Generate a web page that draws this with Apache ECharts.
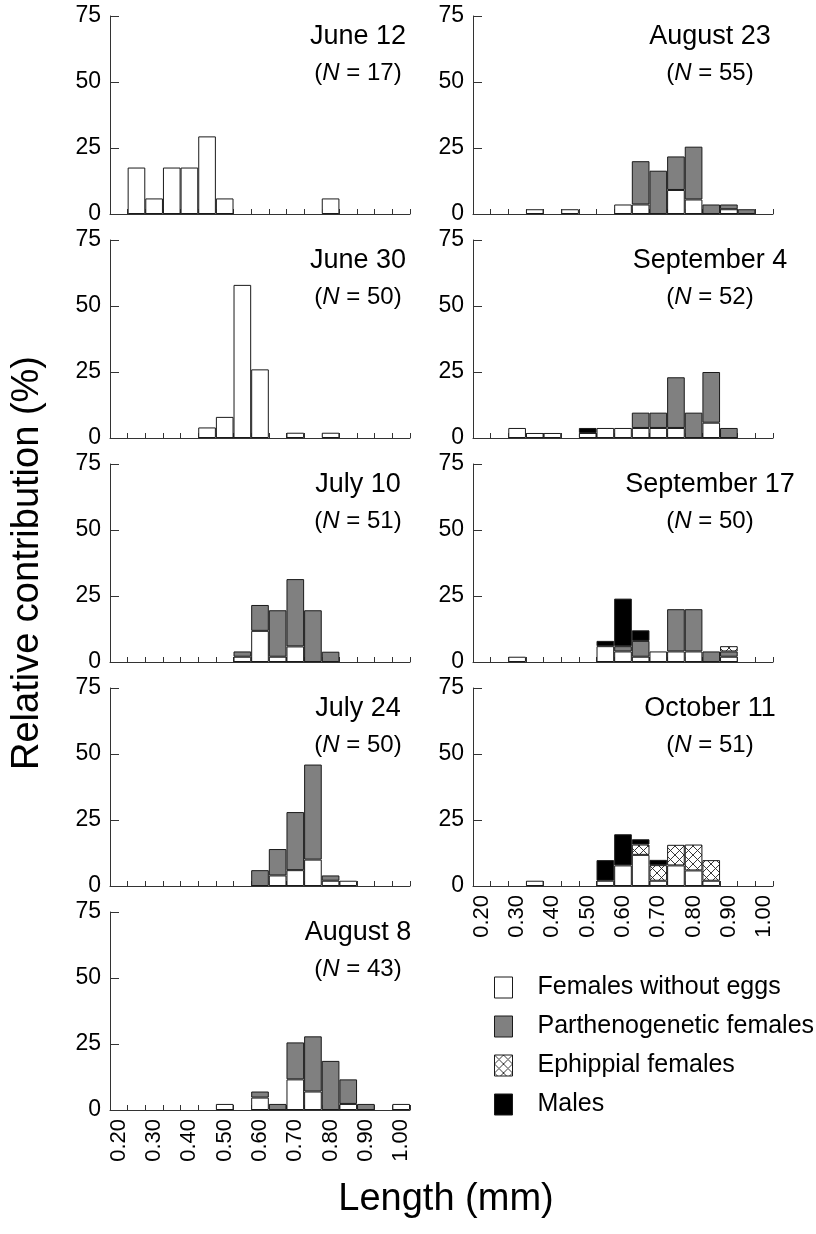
<!DOCTYPE html>
<html>
<head>
<meta charset="utf-8">
<script src="https://cdn.jsdelivr.net/npm/echarts@6/dist/echarts.min.js"></script>
<style>
html,body{margin:0;padding:0;background:#fff;}
#chart{width:816px;height:1234px;}
</style>
</head>
<body>
<div id="chart"></div>
<script>
// ---- Data ----
const bins = ['0.20','0.25','0.30','0.35','0.40','0.45','0.50','0.55','0.60','0.65','0.70','0.75','0.80','0.85','0.90','0.95','1.00'];
const yTicks = [0, 25, 50, 75];
const titles = ['June 12','June 30','July 10','July 24','August 8','August 23','September 4','September 17','October 11'];
const sampleN = [17, 50, 51, 50, 43, 55, 52, 50, 51];
const categories = ['Females without eggs','Parthenogenetic females','Ephippial females','Males'];

const none = [0,0,0,0,0,0,0,0,0,0,0,0,0,0,0,0,0];

const jun12White = [0,17.6,5.9,17.6,17.6,29.4,5.9,0,0,0,0,0,5.9,0,0,0,0];

const jun30White = [0,0,0,0,0,4,8,58,26,0,2,0,2,0,0,0,0];

const jul10White = [0,0,0,0,0,0,0,2,11.8,2,5.9,0,0,0,0,0,0];
const jul10Parth = [0,0,0,0,0,0,0,2,9.8,17.6,25.5,19.6,3.9,0,0,0,0];

const jul24White = [0,0,0,0,0,0,0,0,0,4,6,10,2,2,0,0,0];
const jul24Parth = [0,0,0,0,0,0,0,0,6,10,22,36,2,0,0,0,0];

const aug8White = [0,0,0,0,0,0,2.3,0,4.7,0,11.6,7,0,2.3,0,0,2.3];
const aug8Parth = [0,0,0,0,0,0,0,0,2.3,2.3,14,20.9,18.6,9.3,2.3,0,0];

const aug23White = [0,0,0,1.8,0,1.8,0,0,3.6,3.6,0,9.1,5.5,0,1.8,0,0];
const aug23Parth = [0,0,0,0,0,0,0,0,0,16.4,16.4,12.7,20,3.6,1.8,1.8,0];

const sep4White = [0,0,3.8,1.9,1.9,0,1.9,3.8,3.8,3.8,3.8,3.8,0,5.8,0,0,0];
const sep4Parth = [0,0,0,0,0,0,0,0,0,5.8,5.8,19.2,9.6,19.2,3.8,0,0];
const sep4Males = [0,0,0,0,0,0,1.9,0,0,0,0,0,0,0,0,0,0];

const sep17White = [0,0,2,0,0,0,0,6,4,2,4,4,4,0,2,0,0];
const sep17Parth = [0,0,0,0,0,0,0,0,2,6,0,16,16,4,2,0,0];
const sep17Ephip = [0,0,0,0,0,0,0,0,0,0,0,0,0,0,2,0,0];
const sep17Males = [0,0,0,0,0,0,0,2,18,4,0,0,0,0,0,0,0];

const oct11White = [0,0,0,2,0,0,0,2,7.8,11.8,2,7.8,5.9,2,0,0,0];
const oct11Ephip = [0,0,0,0,0,0,0,0,0,3.9,5.9,7.8,9.8,7.8,0,0,0];
const oct11Males = [0,0,0,0,0,0,0,7.8,11.8,2,2,0,0,0,0,0,0];

const whiteData = [jun12White, jun30White, jul10White, jul24White, aug8White, aug23White, sep4White, sep17White, oct11White];
const parthData = [none, none, jul10Parth, jul24Parth, aug8Parth, aug23Parth, sep4Parth, sep17Parth, none];
const ephipData = [none, none, none, none, none, none, none, sep17Ephip, oct11Ephip];
const malesData = [none, none, none, none, none, none, sep4Males, sep17Males, oct11Males];

// ---- Build ----
const FONT = "'Liberation Sans', Arial, Helvetica, sans-serif";

// cross-hatch pattern
const pc = document.createElement('canvas');
pc.width = 9; pc.height = 9;
const ctx = pc.getContext('2d');
ctx.fillStyle = '#fff'; ctx.fillRect(0,0,9,9);
ctx.strokeStyle = '#222'; ctx.lineWidth = 0.9;
ctx.beginPath();
ctx.moveTo(0,0); ctx.lineTo(9,9);
ctx.moveTo(9,0); ctx.lineTo(0,9);
ctx.stroke();
const hatch = { image: pc, repeat: 'repeat' };

const fills = ['#ffffff', '#808080', hatch, '#000000'];
const dataSets = [whiteData, parthData, ephipData, malesData];

const grids = [], xAxes = [], yAxes = [], series = [], graphics = [];
const panelTop0 = 16, panelPitch = 224, panelH = 198, panelW = 300;

titles.forEach((t, p) => {
  const col = p < 5 ? 0 : 1;
  const row = col === 0 ? p : p - 5;
  const left = col === 0 ? 110 : 473;
  const top = panelTop0 + row * panelPitch;
  const isBottom = (p === 4 || p === 8);
  grids.push({ left: left, top: top, width: panelW, height: panelH, containLabel: false });
  xAxes.push({
    type: 'category', gridIndex: p, data: bins, boundaryGap: true,
    axisLine: { show: true, lineStyle: { color: '#333', width: 1 } },
    axisTick: { show: true, inside: true, length: 5, interval: 0, alignWithLabel: false, lineStyle: { color: '#333' } },
    axisLabel: { show: isBottom, interval: 1, rotate: 90, margin: 9, fontSize: 22, fontFamily: FONT, color: '#000' },
    splitLine: { show: false }
  });
  yAxes.push({
    type: 'value', gridIndex: p, min: yTicks[0], max: yTicks[yTicks.length-1], interval: 25,
    axisLine: { show: true, lineStyle: { color: '#333', width: 1 } },
    axisTick: { show: true, inside: true, length: 9, lineStyle: { color: '#333' } },
    axisLabel: { margin: 9, fontSize: 23, fontFamily: FONT, color: '#000' },
    splitLine: { show: false }
  });
  categories.forEach((name, c) => {
    series.push({
      type: 'bar', name: name, xAxisIndex: p, yAxisIndex: p, stack: 'p' + p,
      barCategoryGap: '0%',
      itemStyle: { color: fills[c], borderColor: '#1a1a1a', borderWidth: 1 },
      emphasis: { disabled: true },
      data: dataSets[c][p].map(v => v === 0 ? '-' : v)
    });
  });
  const cx = col === 0 ? 358 : 710;
  graphics.push({
    type: 'text', x: cx, y: top + 21,
    style: { text: t, fontSize: 27, fontFamily: FONT, fill: '#000', align: 'center', verticalAlign: 'middle' }
  });
  graphics.push({
    type: 'text', x: cx, y: top + 57,
    style: {
      text: '({i|N} = ' + sampleN[p] + ')', fontSize: 24, fontFamily: FONT, fill: '#000',
      align: 'center', verticalAlign: 'middle',
      rich: { i: { fontStyle: 'italic', fontSize: 24, fontFamily: FONT, fill: '#000' } }
    }
  });
});

graphics.push({
  type: 'text', x: 28, y: 563, rotation: Math.PI / 2,
  style: { text: 'Relative contribution (%)', fontSize: 38, fontFamily: FONT, fill: '#000', align: 'center', verticalAlign: 'middle' }
});
graphics.push({
  type: 'text', x: 446, y: 1200,
  style: { text: 'Length (mm)', fontSize: 38, fontFamily: FONT, fill: '#000', align: 'center', verticalAlign: 'middle' }
});

const chart = echarts.init(document.getElementById('chart'), null, { renderer: 'canvas' });
chart.setOption({
  backgroundColor: '#fff',
  animation: false,
  grid: grids,
  xAxis: xAxes,
  yAxis: yAxes,
  series: series,
  legend: {
    data: categories, orient: 'vertical', left: 489, top: 970,
    itemWidth: 18, itemHeight: 21, itemGap: 14, icon: 'rect',
    itemStyle: { borderColor: '#1a1a1a', borderWidth: 1 },
    textStyle: { fontSize: 25, fontFamily: FONT, color: '#000', padding: [0, 0, 0, 20] },
    selectedMode: false
  },
  graphic: graphics
});
</script>
</body>
</html>
